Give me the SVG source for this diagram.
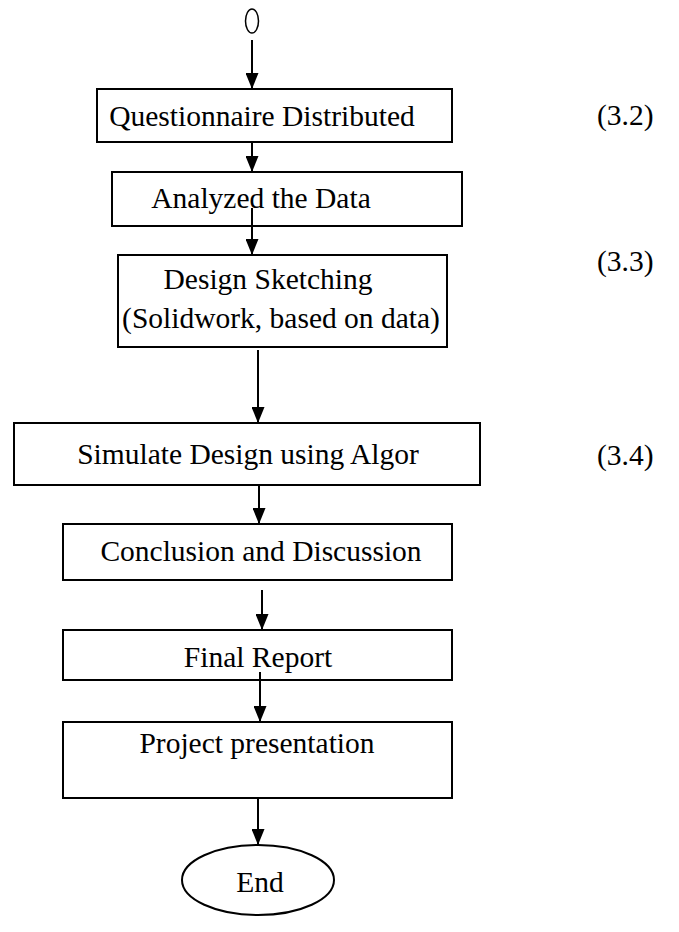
<svg xmlns="http://www.w3.org/2000/svg" width="679" height="932" viewBox="0 0 679 932">
<style>
.box{fill:#fff;stroke:#000;stroke-width:2}
.t{font-family:"Liberation Serif","Times New Roman",serif;font-size:29.5px;fill:#000;text-anchor:middle}
.n{font-family:"Liberation Serif","Times New Roman",serif;font-size:29.5px;fill:#000}
.c{stroke:#000;stroke-width:2;fill:none;marker-end:url(#ah)}
</style>
<defs>
<marker id="ah" markerUnits="userSpaceOnUse" markerWidth="16" markerHeight="13" viewBox="0 0 16 13" refX="16" refY="6.5" orient="auto">
<path d="M0,0 L16,6.5 L0,13 Z" fill="#000"/>
</marker>
</defs>
<g id="start"><ellipse cx="252" cy="21" rx="6.5" ry="12" fill="#fff" stroke="#000" stroke-width="1.5"/></g>
<g id="n1"><rect class="box" x="97" y="89" width="355" height="53"/><text class="t" x="262" y="126">Questionnaire Distributed</text></g>
<g id="n2"><rect class="box" x="112" y="172" width="350" height="54"/><text class="t" x="261" y="208">Analyzed the Data</text></g>
<g id="n3"><rect class="box" x="118" y="255" width="329" height="92"/><text class="t" x="268" y="289">Design Sketching</text><text class="t" x="281" y="328">(Solidwork, based on data)</text></g>
<g id="n4"><rect class="box" x="14" y="423" width="466" height="62"/><text class="t" x="248" y="464">Simulate Design using Algor</text></g>
<g id="n5"><rect class="box" x="63" y="524" width="389" height="56"/><text class="t" x="261" y="561">Conclusion and Discussion</text></g>
<g id="n6"><rect class="box" x="63" y="630" width="389" height="50"/><text class="t" x="258" y="667">Final Report</text></g>
<g id="n7"><rect class="box" x="63" y="722" width="389" height="76"/><text class="t" x="257" y="753">Project presentation</text></g>
<g id="end"><ellipse cx="258" cy="880" rx="76" ry="35" fill="#fff" stroke="#000" stroke-width="2"/><text class="t" x="260" y="892">End</text></g>
<g id="labels"><text class="n" x="597" y="125">(3.2)</text><text class="n" x="597" y="271">(3.3)</text><text class="n" x="597" y="465">(3.4)</text></g>
<g id="connectors">
<line class="c" x1="252" y1="40" x2="252" y2="89"/>
<line class="c" x1="252" y1="142" x2="252" y2="172"/>
<line class="c" x1="252" y1="208" x2="252" y2="255"/>
<line class="c" x1="258" y1="350" x2="258" y2="423"/>
<line class="c" x1="259" y1="485" x2="259" y2="524"/>
<line class="c" x1="262" y1="590" x2="262" y2="630"/>
<line class="c" x1="260" y1="672" x2="260" y2="722"/>
<line class="c" x1="258" y1="798" x2="258" y2="845"/>
</g>
</svg>
